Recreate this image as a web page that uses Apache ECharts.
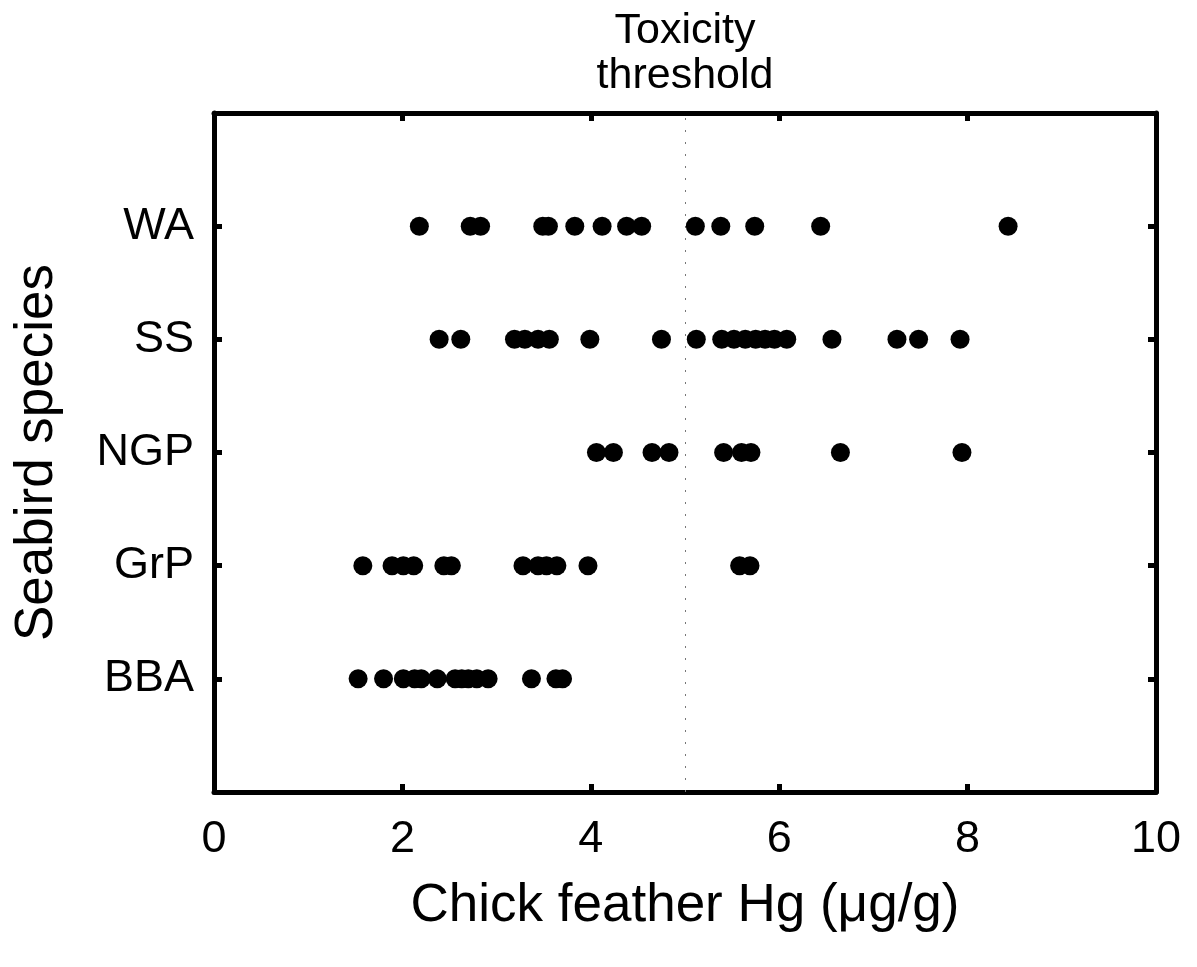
<!DOCTYPE html>
<html>
<head>
<meta charset="utf-8">
<script src="https://cdn.jsdelivr.net/npm/echarts@6/dist/echarts.min.js"></script>
<style>
html,body{margin:0;padding:0;background:#fff;}
#chart{width:1197px;height:967px;}
</style>
</head>
<body>
<div id="chart"></div>
<script>
// Species (bottom to top), positioned at 1..5 on the vertical value axis
const species = ['BBA', 'GrP', 'NGP', 'SS', 'WA'];
const xTicks = [0, 2, 4, 6, 8, 10];
const thresholdValue = 5;
const thresholdLabel = 'Toxicity\nthreshold';

// Chick feather Hg (µg/g) for each species
const hgBBA = [1.53, 1.80, 2.01, 2.13, 2.20, 2.37, 2.56, 2.63, 2.70, 2.79, 2.91, 3.37, 3.63, 3.70];
const hgGrP = [1.58, 1.89, 2.01, 2.12, 2.44, 2.52, 3.28, 3.44, 3.53, 3.64, 3.97, 5.58, 5.69];
const hgNGP = [4.06, 4.24, 4.65, 4.83, 5.41, 5.60, 5.70, 6.65, 7.94];
const hgSS  = [2.39, 2.62, 3.19, 3.30, 3.44, 3.56, 3.99, 4.75, 5.12, 5.39, 5.52, 5.64, 5.75, 5.85, 5.95, 6.08, 6.56, 7.25, 7.48, 7.92];
const hgWA  = [2.18, 2.72, 2.83, 3.49, 3.55, 3.83, 4.12, 4.38, 4.54, 5.11, 5.38, 5.74, 6.44, 8.43];

const seriesValues = [hgBBA, hgGrP, hgNGP, hgSS, hgWA];
const points = [];
seriesValues.forEach((arr, i) => arr.forEach(v => points.push([v, i + 1])));

const FONT = 'Liberation Sans, Arial, sans-serif';
const AXW = 5;

const chart = echarts.init(document.getElementById('chart'), null, {renderer: 'canvas'});
chart.setOption({
  backgroundColor: '#fff',
  animation: false,
  grid: {left: 214, right: 41, top: 113, bottom: 175, containLabel: false},
  xAxis: [{
    type: 'value', min: xTicks[0], max: xTicks[xTicks.length - 1], interval: 2,
    position: 'bottom',
    axisLine: {show: true, onZero: false, lineStyle: {color: '#000', width: AXW}},
    axisTick: {show: true, inside: true, length: 8, lineStyle: {color: '#000', width: AXW}},
    axisLabel: {show: true, color: '#000', fontSize: 45, fontFamily: FONT, margin: 25},
    splitLine: {show: false},
    name: 'Chick feather Hg (μg/g)', nameLocation: 'middle', nameGap: 88,
    nameTextStyle: {color: '#000', fontSize: 53, fontFamily: FONT}
  }, {
    type: 'value', min: xTicks[0], max: xTicks[xTicks.length - 1], interval: 2,
    position: 'top',
    axisLine: {show: true, onZero: false, lineStyle: {color: '#000', width: AXW}},
    axisTick: {show: true, inside: true, length: 8, lineStyle: {color: '#000', width: AXW}},
    axisLabel: {show: false},
    splitLine: {show: false}
  }],
  yAxis: [{
    type: 'value', min: 0, max: species.length + 1, interval: 1,
    position: 'left',
    axisLine: {show: true, onZero: false, lineStyle: {color: '#000', width: AXW}},
    axisTick: {show: true, inside: true, length: 8, lineStyle: {color: '#000', width: AXW}},
    axisLabel: {show: true, color: '#000', fontSize: 45, fontFamily: FONT, margin: 20,
      formatter: v => species[v - 1] || ''},
    splitLine: {show: false},
    name: 'Seabird species', nameLocation: 'middle', nameGap: 150, nameRotate: 90,
    nameTextStyle: {color: '#000', fontSize: 53, fontFamily: FONT}
  }, {
    type: 'value', min: 0, max: species.length + 1, interval: 1,
    position: 'right',
    axisLine: {show: true, onZero: false, lineStyle: {color: '#000', width: AXW}},
    axisTick: {show: true, inside: true, length: 8, lineStyle: {color: '#000', width: AXW}},
    axisLabel: {show: false},
    splitLine: {show: false}
  }],
  series: [{
    type: 'scatter',
    xAxisIndex: 0, yAxisIndex: 0,
    data: points,
    symbol: 'circle',
    symbolSize: 19,
    itemStyle: {color: '#000', opacity: 1},
    markLine: {
      silent: true,
      symbol: ['none', 'none'],
      lineStyle: {color: '#777', width: 1, type: [2, 10]},
      label: {show: true, position: 'end', formatter: thresholdLabel, color: '#000',
        fontSize: 43, lineHeight: 45, fontFamily: FONT, distance: 14},
      data: [{xAxis: thresholdValue}]
    },
    z: 5
  }]
});
</script>
</body>
</html>
